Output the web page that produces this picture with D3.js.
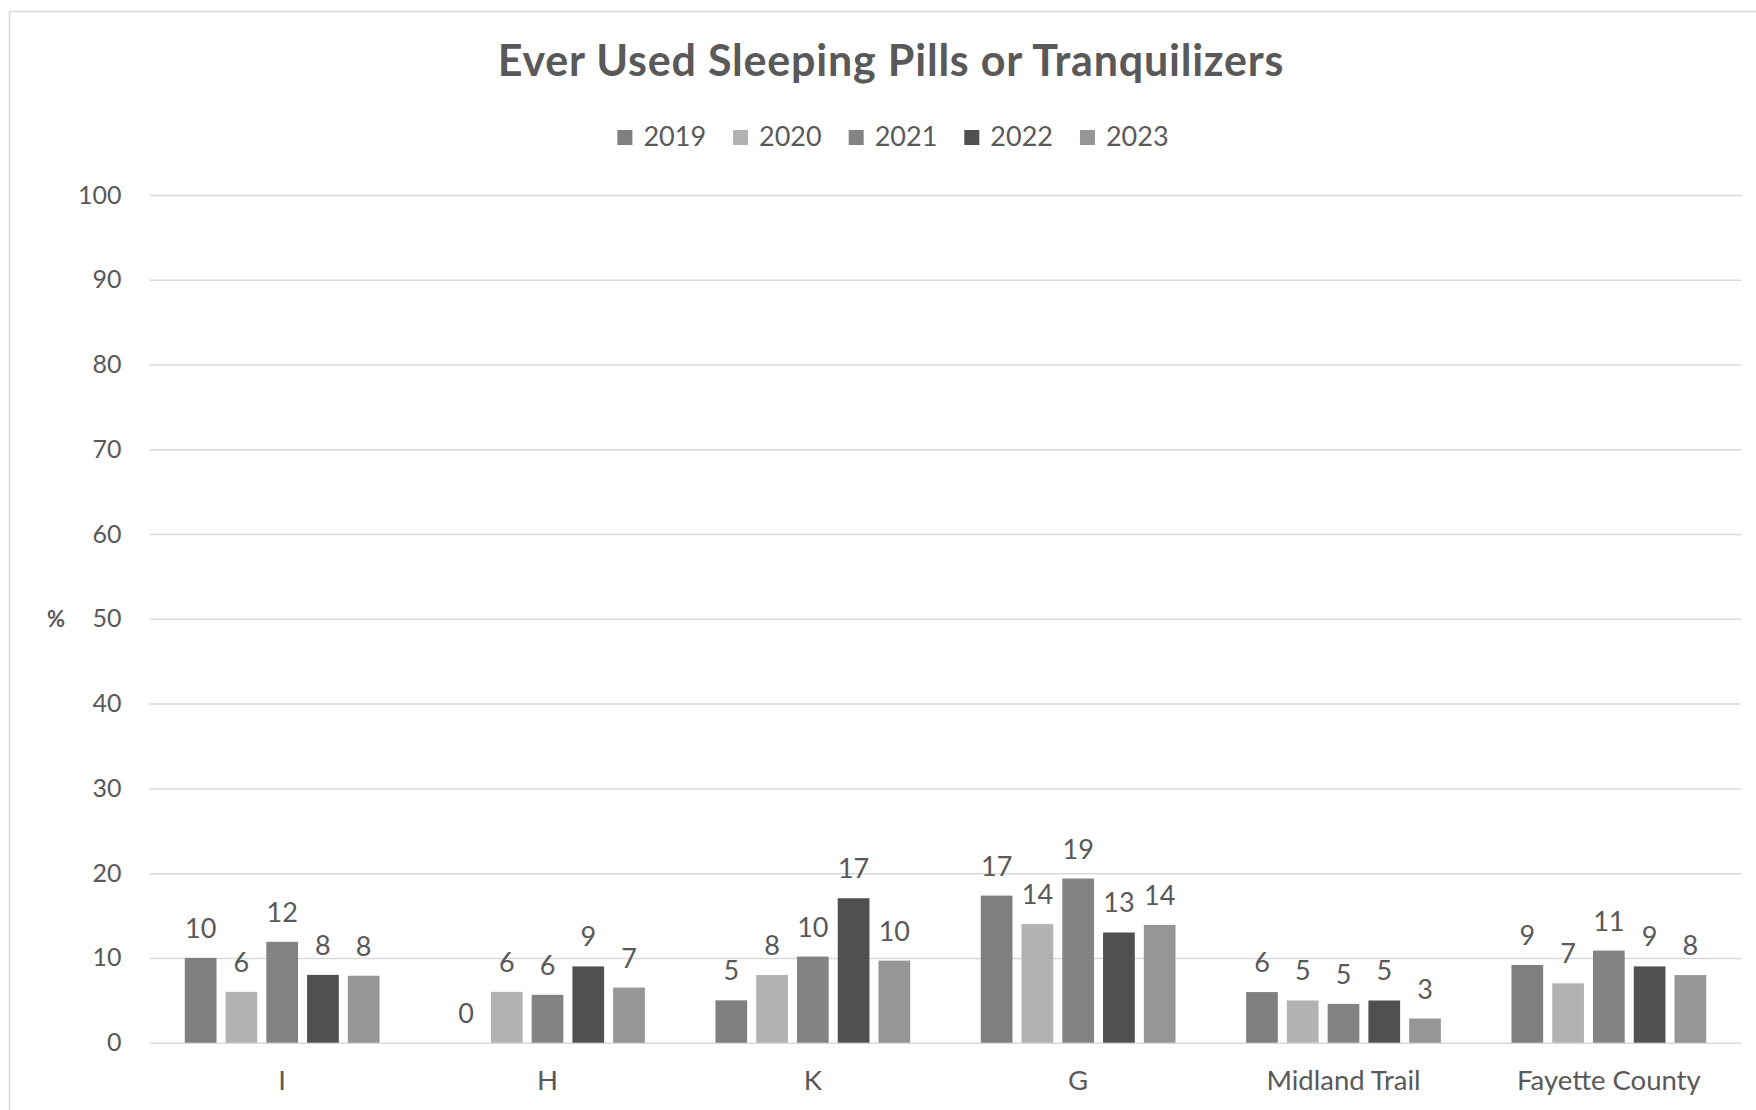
<!DOCTYPE html>
<html>
<head>
<meta charset="utf-8">
<script src="https://cdn.jsdelivr.net/npm/d3@7"></script>
<style>
  body { margin: 0; background: #fff; overflow: hidden; }
  svg { display: block; }
  text { font-family: Lato, "Open Sans", sans-serif; fill: #595959; }
</style>
</head>
<body>
<div id="chart"></div>
<script>
const categories = ['I', 'H', 'K', 'G', 'Midland Trail', 'Fayette County'];
const years = ['2019', '2020', '2021', '2022', '2023'];
const values2019 = [10.0, 0, 5.0, 17.35, 5.97, 9.17];
const values2020 = [6.0, 6.0, 7.98, 13.99, 4.98, 7.0];
const values2021 = [11.9, 5.65, 10.16, 19.37, 4.58, 10.87];
const values2022 = [8.0, 9.0, 17.04, 13.0, 4.98, 9.0];
const values2023 = [7.9, 6.5, 9.68, 13.9, 2.85, 7.98];
const yTicks = [0, 10, 20, 30, 40, 50, 60, 70, 80, 90, 100];
const colors = ['#7f7f7f', '#b2b2b2', '#838383', '#505050', '#969696'];

const series = [values2019, values2020, values2021, values2022, values2023];

const width = 1756
const height = 1110
const margin = { top: 195, right: 14.5, bottom: 67.3, left: 149.5 };
const innerWidth = width - margin.left - margin.right;
const innerHeight = height - margin.top - margin.bottom;

const svg = d3.select('#chart')
    .append('svg')
    .attr('width', width)
    .attr('height', height);

// chart area border (top and left visible)
svg.append('path')
    .attr('d', `M9.5,${height} V11.5 H${width}`)
    .attr('fill', 'none')
    .attr('stroke', '#d9d9d9')
    .attr('stroke-width', 1.5);

svg.append('text')
    .attr('x', 891)
    .attr('y', 76)
    .attr('text-anchor', 'middle')
    .style('font-size', '43px')
    .style('font-weight', 'bold')
    .style('letter-spacing', '0.8px')
    .text('Ever Used Sleeping Pills or Tranquilizers');

const g = svg.append('g')
    .attr('transform', `translate(${margin.left},${margin.top})`);

const x0 = d3.scaleBand()
    .domain(categories)
    .range([0, innerWidth])
    .paddingInner(0.266)
    .paddingOuter(0.133);

const x1 = d3.scaleBand()
    .domain(years)
    .range([0, x0.bandwidth()])
    .paddingInner(0.222);

const yScale = d3.scaleLinear()
    .domain([0, 100])
    .range([innerHeight, 0]);

const colorScale = d3.scaleOrdinal()
    .domain(years)
    .range(colors);

// gridlines
g.append('g')
    .selectAll('line')
    .data(yTicks)
    .enter()
    .append('line')
    .attr('x1', 0)
    .attr('x2', innerWidth)
    .attr('y1', d => yScale(d) + 0.5)
    .attr('y2', d => yScale(d) + 0.5)
    .attr('stroke', '#d9d9d9')
    .attr('stroke-width', 1.5);

const yAxis = d3.axisLeft(yScale).tickValues(yTicks).tickSize(0).tickPadding(28);
g.append('g')
    .call(yAxis)
    .call(a => a.select('.domain').remove())
    .selectAll('text')
    .style('font-size', '25px')
    .style('font-family', 'Lato, sans-serif')
    .attr('fill', '#595959');

const xAxis = d3.axisBottom(x0).tickSize(0).tickPadding(28);
g.append('g')
    .attr('transform', `translate(0,${innerHeight})`)
    .call(xAxis)
    .call(a => a.select('.domain').remove())
    .selectAll('text')
    .style('font-size', '27.5px')
    .style('font-family', 'Lato, sans-serif')
    .attr('fill', '#595959');

// axis title
svg.append('text')
    .attr('x', 56)
    .attr('y', 627)
    .attr('text-anchor', 'middle')
    .style('font-size', '22px')
    .style('font-weight', 'bold')
    .text('%');

const rows = [];
categories.forEach((c, i) => {
    years.forEach((yr, j) => {
        rows.push({ category: c, year: yr, value: series[j][i] });
    });
});

g.selectAll('rect.bar')
    .data(rows)
    .enter()
    .append('rect')
    .attr('class', 'bar')
    .attr('x', d => x0(d.category) + x1(d.year))
    .attr('y', d => yScale(d.value))
    .attr('width', x1.bandwidth())
    .attr('height', d => innerHeight - yScale(d.value))
    .attr('fill', d => colorScale(d.year));

g.selectAll('text.label')
    .data(rows)
    .enter()
    .append('text')
    .attr('class', 'label')
    .attr('x', d => x0(d.category) + x1(d.year) + x1.bandwidth() / 2)
    .attr('y', d => yScale(d.value) - 20)
    .attr('text-anchor', 'middle')
    .style('font-size', '27px')
    .text(d => Math.round(d.value));

// legend
const legend = svg.append('g');
let lx = 0;
years.forEach(yr => {
    const item = legend.append('g').attr('transform', `translate(${lx},0)`);
    item.append('rect')
        .attr('x', 0)
        .attr('y', 130)
        .attr('width', 15)
        .attr('height', 15)
        .attr('fill', colorScale(yr));
    const t = item.append('text')
        .attr('x', 26)
        .attr('y', 146)
        .style('font-size', '27px')
        .text(yr);
    lx += 26 + t.node().getComputedTextLength() + 27;
});
const legendWidth = lx - 27;
legend.attr('transform', `translate(${893 - legendWidth / 2},0)`);
</script>
</body>
</html>
